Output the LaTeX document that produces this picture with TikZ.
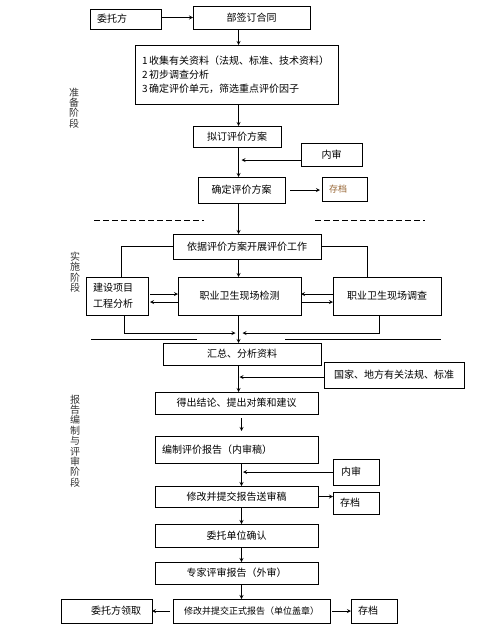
\documentclass[tikz,border=0pt]{standalone}
\usepackage{fontspec}
\newfontfamily\cjk{Noto Sans CJK SC}
\definecolor{archivebrown}{RGB}{150,100,50}
\tikzset{
    box/.style={draw, line width=0.8pt, inner sep=0pt, outer sep=0pt, font=\cjk\fontsize{10pt}{12pt}\selectfont},
    wh/.style 2 args={minimum width=#1pt, minimum height=#2pt},
    lbox/.style 2 args={text width=#1pt, inner xsep=#2pt, align=left},
    arr/.style={-stealth, line width=0.8pt},
    link/.style={line width=0.8pt},
    stage/.style={font=\cjk\fontsize{10pt}{10.4pt}\selectfont, align=center, inner sep=0pt, text=black!80},
}
\begin{document}
\begin{tikzpicture}[x=1pt,y=-1pt]
    \useasboundingbox (0,0) rectangle (500,629);
    \coordinate (axis) at (238.5,0);
    \coordinate (spine) at (241.5,0);
    \coordinate (merge) at (238.5,333);

    \node[stage] (prep) at (74,108) {准\\备\\阶\\段};
    \node[stage] (impl) at (75,272) {实\\施\\阶\\段};
    \node[stage] (report) at (75,441) {报\\告\\编\\制\\与\\评\\审\\阶\\段};

    \node[box, wh={71}{20}, lbox={57}{7}] (client) at (125.5,19) {委托方};
    \node[box, wh={117}{23}] (contract) at (251.5,17.5) {部签订合同};
    \node[box, wh={203}{59}, lbox={189}{7}, font=\cjk\fontsize{10pt}{14pt}\selectfont] (materials) at (236.5,74.5) {1\,收集有关资料（法规、标准、技术资料）\\2\,初步调查分析\\3\,确定评价单元，筛选重点评价因子};
    \node[box, wh={88}{21}] (draftplan) at (237,136.5) {拟订评价方案};
    \node[box, wh={61}{23}] (review) at (331.5,154.5) {内审};
    \node[box, wh={87}{26}] (plan) at (241.5,190) {确定评价方案};
    \node[box, wh={45}{24}, lbox={31}{7}, font=\cjk\fontsize{9pt}{10pt}\selectfont, text=archivebrown] (archive) at (344.5,189) {存档};

    \node[box, wh={148}{25}] (start) at (247,246.5) {依据评价方案开展评价工作};
    \node[box, wh={62}{38}, lbox={48}{7}, font=\cjk\fontsize{10pt}{16pt}\selectfont] (project) at (117,296) {建设项目\\工程分析};
    \node[box, wh={123}{38}] (detect) at (239.5,296) {职业卫生现场检测};
    \node[box, wh={108}{38}] (survey) at (387,296) {职业卫生现场调查};

    \node[box, wh={158}{22}] (summary) at (242,354) {汇总、分析资料};
    \node[box, wh={140}{26}] (laws) at (394,375) {国家、地方有关法规、标准};
    \node[box, wh={163}{22}] (conclusion) at (236.5,403) {得出结论、提出对策和建议};
    \node[box, wh={163}{27}, lbox={149}{7}] (draft) at (236.5,449.5) {编制评价报告（内审稿）};
    \node[box, wh={46}{26}, lbox={30}{8}] (review2) at (356,472) {内审};
    \node[box, wh={163}{21}] (revise) at (236.5,496.5) {修改并提交报告送审稿};
    \node[box, wh={46}{22}, lbox={32}{7}] (archive2) at (356,503) {存档};
    \node[box, wh={163}{23}] (confirm) at (236.5,535.5) {委托单位确认};
    \node[box, wh={163}{22}] (expert) at (236.5,573) {专家评审报告（外审）};
    \node[box, wh={157}{24}, font=\cjk\fontsize{9pt}{11pt}\selectfont] (final) at (251.5,611) {修改并提交正式报告（单位盖章）};
    \node[box, wh={91}{24}] (collect) at (106.5,611) {\hspace*{19pt}委托方领取};
    \node[box, wh={46}{24}, lbox={32}{7}] (archive3) at (374,611) {存档};

    \draw[arr] (contract.west -| client.east) -- (contract.west);
    \draw[arr] (axis |- contract.south) -- (axis |- materials.north);
    \draw[arr] (axis |- materials.south) -- (axis |- draftplan.north);
    \draw[arr] (axis |- draftplan.south) -- (axis |- plan.north);
    \draw[arr, shorten >=3pt] ([yshift=-5.5pt]review.west) -- ([yshift=-5.5pt]axis |- review.west);
    \draw[arr, shorten <=5pt, shorten >=2pt] (plan.east) -- (plan.east -| archive.west);
    \draw[arr] (axis |- plan.south) -- (axis |- start.north);
    \draw[link, dash pattern=on 6pt off 3pt] (94,220) -- (204,220);
    \draw[link, dash pattern=on 6pt off 3pt] (315,220) -- (425,220);

    \draw[link] (start.west) -| ([xshift=4pt]project.north);
    \draw[link] (start.east) -| ([xshift=-20pt]survey.north);
    \draw[arr] (axis |- start.south) -- (axis |- detect.north);
    \draw[arr, shorten <=2pt] ([yshift=2pt]project.east) -- ([yshift=2pt]detect.west);
    \draw[arr, shorten >=2pt] ([yshift=-6pt]detect.west) -- ([yshift=-6pt]project.east);
    \draw[arr] ([yshift=2pt]survey.west) -- ([yshift=2pt]detect.east);
    \draw[arr] ([yshift=-6pt]detect.east) -- ([yshift=-6pt]survey.west);
    \draw[arr] ([xshift=7pt]project.south) |- ([xshift=-3pt]merge);
    \draw[arr] ([xshift=-8pt]survey.south) |- ([xshift=4pt]merge);
    \draw[arr] (axis |- detect.south) -- (axis |- summary.north);
    \draw[link] (91,339) -- (197,339);
    \draw[link] (285,339) -- (441,339);

    \draw[arr, shorten >=1pt] ([yshift=-2pt]laws.west) -- ([yshift=-2pt]axis |- laws.west);
    \draw[arr] (axis |- summary.south) -- (axis |- conclusion.north);
    \draw[arr, shorten <=4pt, shorten >=5pt] (spine |- conclusion.south) -- (spine |- draft.north);
    \draw[arr] (spine |- draft.south) -- (spine |- revise.north);
    \draw[arr, shorten >=1.5pt] (review2.west) -- (spine |- review2.west);
    \draw[arr] (revise.east) -- (revise.east -| archive2.west);
    \draw[arr] (spine |- revise.south) -- (spine |- confirm.north);
    \draw[arr] (spine |- confirm.south) -- (spine |- expert.north);
    \draw[arr] (spine |- expert.south) -- (spine |- final.north);
    \draw[arr, shorten <=3pt] (final.west) -- (collect.east);
    \draw[arr, shorten <=2pt] (final.east) -- (archive3.west);
\end{tikzpicture}
\end{document}
